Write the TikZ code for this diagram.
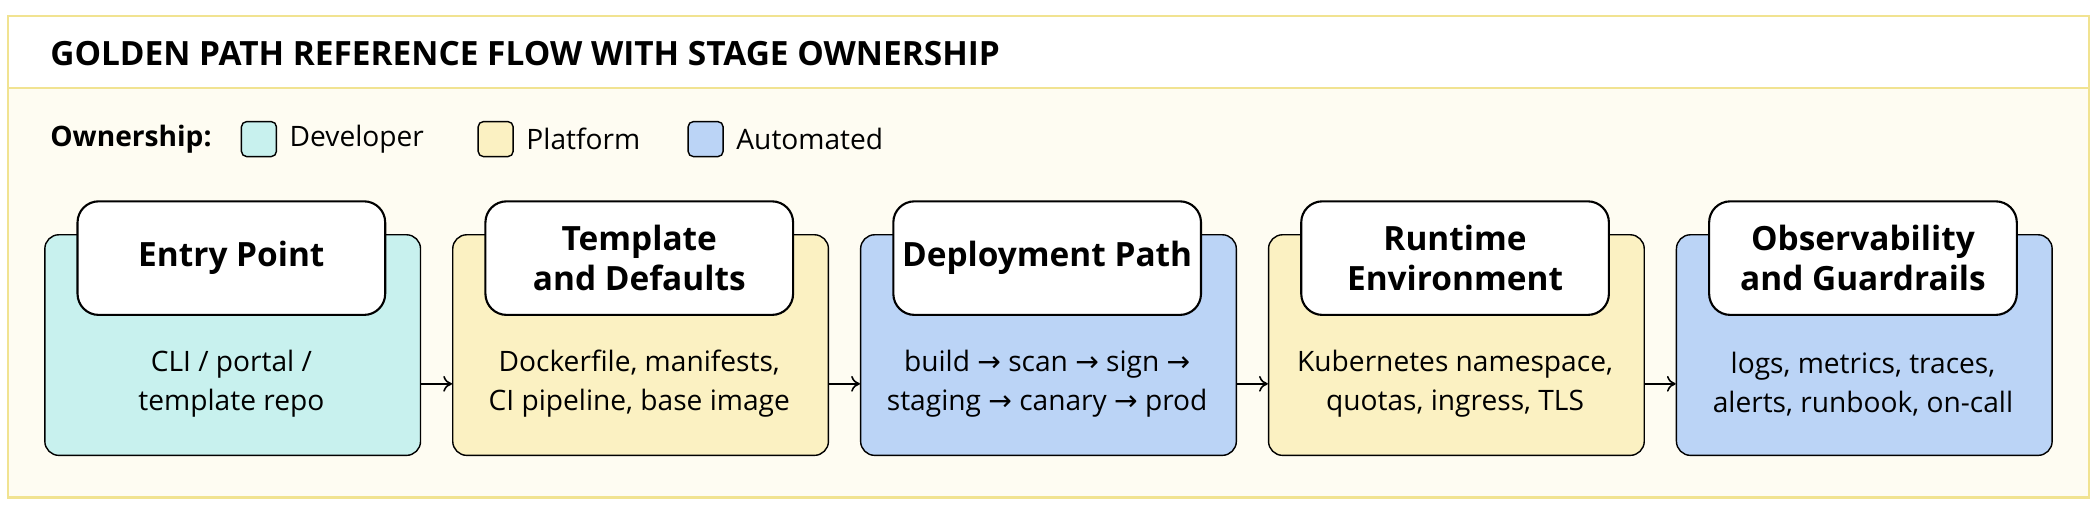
\documentclass[tikz,border=0pt]{standalone}
\usepackage{fontspec}
\setmainfont{Open Sans}
\newfontfamily\symfont{DejaVu Sans}
\newcommand{\nextstep}{{\symfont →}}
\usetikzlibrary{positioning}
\definecolor{devfill}{HTML}{C8F1EE}
\definecolor{platfill}{HTML}{FBF1C2}
\definecolor{autofill}{HTML}{BBD4F6}
\definecolor{pagefill}{HTML}{FEFCF2}
\definecolor{framecol}{HTML}{F1E391}
\begin{document}
\begin{tikzpicture}[x=0.02674cm,y=-0.02674cm]
\tikzset{stagebox/.style = {draw=black, line width=0.8pt, rounded corners=8pt, minimum width=7.51cm, minimum height=4.41cm, anchor=north west}}
\tikzset{headbox/.style = {draw=black, fill=white, line width=1.2pt, rounded corners=12pt, minimum width=6.15cm, minimum height=2.27cm, align=center, font=\fontsize{19}{23}\selectfont\bfseries}}
\tikzset{bodytext/.style = {align=center, font=\fontsize{16}{22}\selectfont}}
\tikzset{swatch/.style = {draw=black, line width=0.8pt, rounded corners=3pt, minimum size=0.7cm, anchor=west}}
\tikzset{flow/.style = {draw=black, line width=0.9pt, -{To[length=5pt,width=9pt]}}}
\usetikzlibrary{arrows.meta}
% background and title strip
\useasboundingbox (0,0) rectangle (1568,378);
\draw[framecol, fill=pagefill, line width=1.2pt] (6,12) rectangle (1562,372);
\draw[framecol, fill=white, line width=1.2pt] (6,12) rectangle (1562,66);
\node[anchor=west, font=\fontsize{19}{23}\selectfont\bfseries] (title) at (33,40) {GOLDEN PATH REFERENCE FLOW WITH STAGE OWNERSHIP};

% legend
\node[anchor=west, font=\fontsize{16}{20}\selectfont\bfseries] (own) at (33,104) {Ownership:};
\node[swatch, fill=devfill] (sdev) at (180,104) {};
\node[anchor=west, font=\fontsize{16}{20}\selectfont] (ldev) at (212,104) {Developer};
\node[swatch, fill=platfill] (splat) at (357,104) {};
\node[anchor=west, font=\fontsize{16}{20}\selectfont] (lplat) at (389,104) {Platform};
\node[swatch, fill=autofill] (sauto) at (514,104) {};
\node[anchor=west, font=\fontsize{16}{20}\selectfont] (lauto) at (546,104) {Automated};

% stages
\node[stagebox, fill=devfill] (s1) at (33,175) {};
\node[stagebox, fill=platfill] (s2) at (338,175) {};
\node[stagebox, fill=autofill] (s3) at (643,175) {};
\node[stagebox, fill=platfill] (s4) at (948,175) {};
\node[stagebox, fill=autofill] (s5) at (1253,175) {};

\node[headbox] (h1) at (173,193) {Entry Point};
\node[headbox] (h2) at (478,193) {Template\\and Defaults};
\node[headbox] (h3) at (783,193) {Deployment Path};
\node[headbox] (h4) at (1088,193) {Runtime\\Environment};
\node[headbox] (h5) at (1393,193) {Observability\\and Guardrails};

\node[bodytext] (b1) at (173,287) {CLI / portal /\\template repo};
\node[bodytext] (b2) at (478,287) {Dockerfile, manifests,\\CI pipeline, base image};
\node[bodytext] (b3) at (783,287) {build \nextstep{} scan \nextstep{} sign \nextstep\\staging \nextstep{} canary \nextstep{} prod};
\node[bodytext] (b4) at (1088,287) {Kubernetes namespace,\\quotas, ingress, TLS};
\node[bodytext] (b5) at (1393,287) {logs, metrics, traces,\\alerts, runbook, on-call};

% connectors
\draw[flow] (s1.east |- b1) -- (s2.west |- b2);
\draw[flow] (s2.east |- b2) -- (s3.west |- b3);
\draw[flow] (s3.east |- b3) -- (s4.west |- b4);
\draw[flow] (s4.east |- b4) -- (s5.west |- b5);
\end{tikzpicture}
\end{document}
